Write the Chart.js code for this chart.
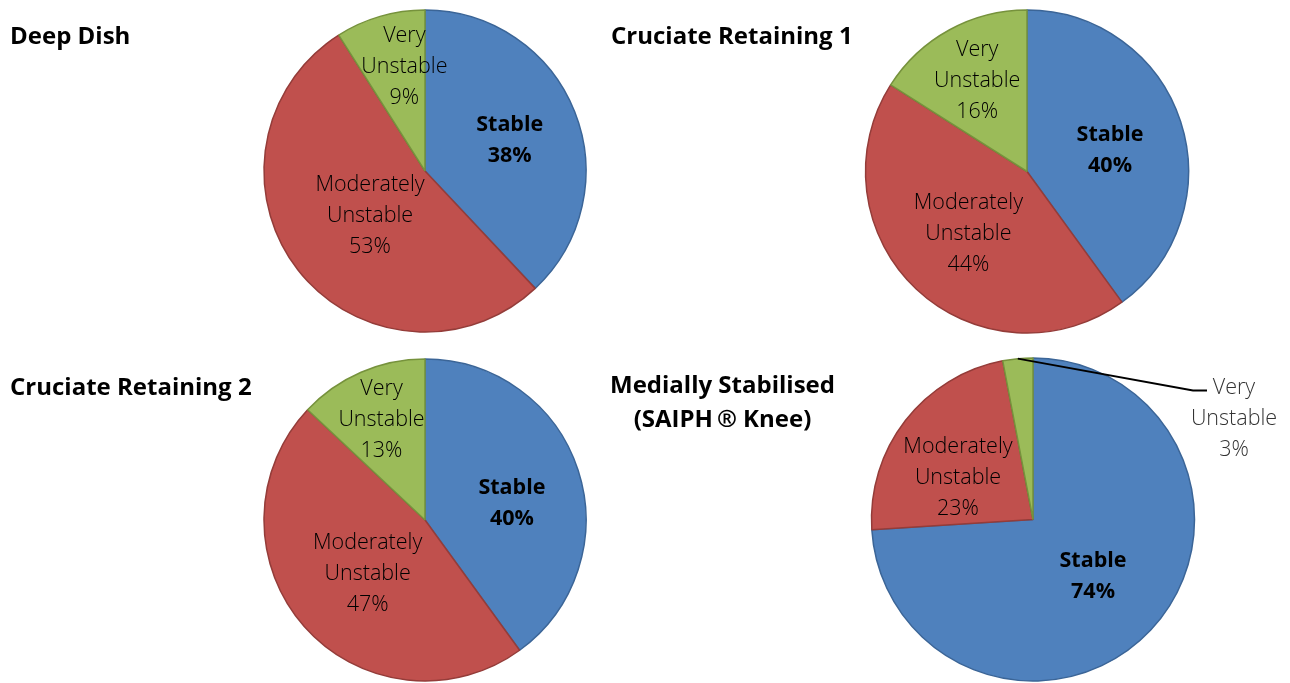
<!DOCTYPE html>
<html>
<head>
<meta charset="utf-8">
<script src="https://cdn.jsdelivr.net/npm/chart.js@4/dist/chart.umd.min.js"></script>
<style>
  html, body { margin: 0; padding: 0; background: #ffffff; }
  body { width: 1290px; height: 683px; position: relative; overflow: hidden; font-family: "Open Sans", "Noto Sans", sans-serif; }
  canvas { position: absolute; left: 0; top: 0; }
  .title { position: absolute; font-weight: bold; font-size: 24px; color: #000; line-height: 34px; white-space: nowrap; letter-spacing: 0px; }
</style>
</head>
<body>
<canvas id="c0" width="1290" height="683"></canvas>
<canvas id="c1" width="1290" height="683"></canvas>
<canvas id="c2" width="1290" height="683"></canvas>
<canvas id="c3" width="1290" height="683"></canvas>
<div class="title" id="t0" style="left:10px;top:18px;"></div>
<div class="title" id="t1" style="left:611px;top:18px;"></div>
<div class="title" id="t2" style="left:10px;top:369px;"></div>
<div class="title" id="t3" style="left:610px;top:367px;text-align:center;"></div>
<script>
// ---- data ----
const categories = ['Stable', 'Moderately Unstable', 'Very Unstable'];
const categoryLines = [['Stable'], ['Moderately', 'Unstable'], ['Very', 'Unstable']];
const chartTitles = [['Deep Dish'], ['Cruciate Retaining 1'], ['Cruciate Retaining 2'], ['Medially Stabilised', '(SAIPH\u2009\u00AE Knee)']];
const deepDish = [38, 53, 9];
const cruciate1 = [40, 44, 16];
const cruciate2 = [40, 47, 13];
const medially = [74, 23, 3];
const seriesValues = [deepDish, cruciate1, cruciate2, medially];

// ---- styles / layout ----
const fillColors = ['#4F81BD', '#C0504D', '#9BBB59'];
const edgeColors = ['#3B6597', '#943C39', '#76923C'];
const pieBoxes = [
  { cx: 425, cy: 171, r: 161 },
  { cx: 1027, cy: 171.5, r: 161.5 },
  { cx: 425, cy: 522, r: 161 },
  { cx: 1033, cy: 521.5, r: 161.5 }
];
// label placement: fraction of radius along slice bisector + angular shift (deg)
const labelPlacement = [
  [{ f: 0.56, da: 1.6 }, { f: 0.44, da: -1.3 }, { f: 0.66, da: 5 }],
  [{ f: 0.53, da: 4 }, { f: 0.53, da: 0 }, { f: 0.64, da: 0 }],
  [{ f: 0.55, da: 7 }, { f: 0.49, da: -2 }, { f: 0.68, da: 0 }],
  [{ f: 0.51, da: 0 }, { f: 0.53, da: -9 }, { outside: true, tx: 201, ty: -101, ex: 160, ey: -129, ex2: 174 }]
];
const W = 1290, H = 683;
const lineH = 31;

const labelPlugin = {
  id: 'sliceLabels',
  afterDatasetsDraw(chart) {
    const ctx = chart.ctx;
    const meta = chart.getDatasetMeta(0);
    const idx = chart.options.plugins.sliceLabels.chartIndex;
    const vals = seriesValues[idx];
    meta.data.forEach((arc, i) => {
      const p = arc.getProps(['x', 'y', 'startAngle', 'endAngle', 'outerRadius'], true);
      const mid = (p.startAngle + p.endAngle) / 2;
      const place = labelPlacement[idx][i];
      const lines = categoryLines[i].concat([vals[i] + '%']);
      const bold = i === 0;
      let lx, ly;
      ctx.save();
      if (place.outside) {
        const sx = p.x + Math.cos(mid) * p.outerRadius;
        const sy = p.y + Math.sin(mid) * p.outerRadius;
        ctx.strokeStyle = '#000';
        ctx.lineWidth = 1.8;
        ctx.beginPath();
        ctx.moveTo(sx, sy);
        ctx.lineTo(p.x + place.ex, p.y + place.ey);
        ctx.lineTo(p.x + place.ex2, p.y + place.ey);
        ctx.stroke();
        lx = p.x + place.tx;
        ly = p.y + place.ty;
      } else {
        const a = mid + place.da * Math.PI / 180;
        lx = p.x + Math.cos(a) * p.outerRadius * place.f;
        ly = p.y + Math.sin(a) * p.outerRadius * place.f;
      }
      ctx.fillStyle = place.outside ? '#333333' : '#000';
      ctx.font = (bold ? 'bold ' : '300 ') + '21.5px "Open Sans"';
      ctx.textAlign = 'center';
      ctx.textBaseline = 'middle';
      const top = ly - (lines.length - 1) * lineH / 2;
      lines.forEach((t, k) => ctx.fillText(t, lx, top + k * lineH));
      ctx.restore();
    });
  }
};

seriesValues.forEach((vals, idx) => {
  const b = pieBoxes[idx];
  const m = b.r + 4;
  new Chart(document.getElementById('c' + idx), {
    type: 'pie',
    data: {
      labels: categories,
      datasets: [{
        data: vals,
        backgroundColor: fillColors,
        borderColor: edgeColors,
        borderWidth: 1.5,
        radius: b.r,
        hoverOffset: 0
      }]
    },
    options: {
      responsive: false,
      animation: false,
      events: [],
      layout: { padding: { left: b.cx - m, right: W - (b.cx + m), top: b.cy - m, bottom: H - (b.cy + m) } },
      plugins: {
        legend: { display: false },
        tooltip: { enabled: false },
        sliceLabels: { chartIndex: idx }
      }
    },
    plugins: [labelPlugin]
  });
  document.getElementById('t' + idx).innerHTML = chartTitles[idx].join('<br>');
});
</script>
</body>
</html>
